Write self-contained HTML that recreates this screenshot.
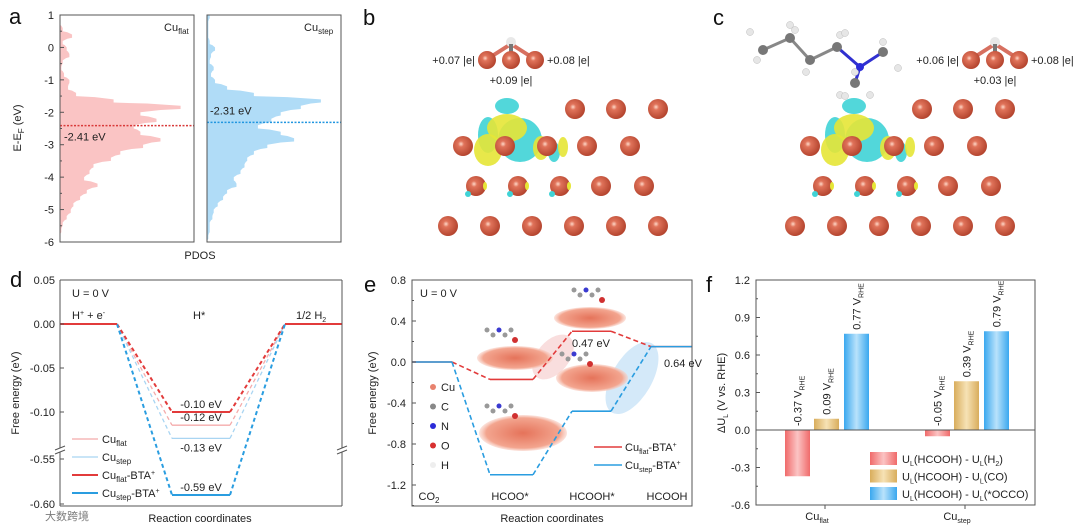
<!DOCTYPE html>
<html><head><meta charset="utf-8">
<style>
html,body{margin:0;padding:0;background:#fff;}
svg{display:block;font-family:"Liberation Sans","Noto Sans CJK SC",sans-serif;}
.t{font-size:11px;fill:#222;}
.L{font-size:22px;fill:#111;}
</style></head>
<body>
<svg id="fig" width="1080" height="530" viewBox="0 0 1080 530" xmlns="http://www.w3.org/2000/svg">
<defs>
<radialGradient id="cu" cx="0.4" cy="0.4" r="0.6"><stop offset="0" stop-color="#ffd8c8"/><stop offset="0.25" stop-color="#e0735a"/><stop offset="1" stop-color="#b5452f"/></radialGradient>
<linearGradient id="gr" x1="0" x2="1"><stop offset="0" stop-color="#f06a6a"/><stop offset="0.5" stop-color="#fbc4c4"/><stop offset="1" stop-color="#f06a6a"/></linearGradient>
<linearGradient id="gy" x1="0" x2="1"><stop offset="0" stop-color="#d9ad5c"/><stop offset="0.5" stop-color="#f6e2b5"/><stop offset="1" stop-color="#d9ad5c"/></linearGradient>
<linearGradient id="gb" x1="0" x2="1"><stop offset="0" stop-color="#3aa8ef"/><stop offset="0.5" stop-color="#b9e2fb"/><stop offset="1" stop-color="#3aa8ef"/></linearGradient>
<radialGradient id="slab" cx="0.5" cy="0.5" r="0.6"><stop offset="0" stop-color="#e5735a"/><stop offset="0.7" stop-color="#f3a58f"/><stop offset="1" stop-color="#fff" stop-opacity="0"/></radialGradient>
</defs>
<g id="pa"></g>
<g id="pb"></g>
<g id="pc"></g>
<g id="pd"></g>
<g id="pe"></g>
<g id="pf"></g>
</svg>
<script>
// ---------- DATA ----------
const pdosEnergy = [1,0.8,0.6,0.4,0.2,0,-0.2,-0.4,-0.6,-0.8,-1.0,-1.2,-1.4,-1.6,-1.8,-2.0,-2.2,-2.4,-2.6,-2.8,-3.0,-3.2,-3.4,-3.6,-3.8,-4.0,-4.2,-4.4,-4.6,-4.8,-5.0,-5.2,-5.4,-5.6,-5.8,-6.0];
const pdosFlat = [0,0,0.02,0.09,0.02,0.05,0.07,0.02,0.01,0.03,0.07,0.06,0.12,0.4,0.9,0.6,0.72,0.55,0.6,0.75,0.62,0.45,0.38,0.25,0.22,0.18,0.28,0.2,0.15,0.1,0.08,0.05,0.02,0.01,0,0];
const pdosStep = [0.02,0.01,0.01,0.01,0.02,0.06,0.03,0.02,0.05,0.03,0.06,0.15,0.35,0.85,0.7,0.55,0.48,0.38,0.55,0.65,0.45,0.35,0.3,0.28,0.25,0.2,0.22,0.15,0.12,0.08,0.05,0.04,0.02,0.02,0.01,0];
const dbandCenters = [-2.41,-2.31];
const pdosTicks = [1,0,-1,-2,-3,-4,-5,-6];

const herSeries = ["Cu_flat","Cu_step","Cu_flat-BTA+","Cu_step-BTA+"];
const herHstar = [-0.115,-0.13,-0.10,-0.59];
const herLabels = ["-0.12 eV","-0.13 eV","-0.10 eV","-0.59 eV"];
const herTicksUpper = [0.05,0.00,-0.05,-0.10];
const herTicksLower = [-0.55,-0.60];

const co2Steps = ["CO2","HCOO*","HCOOH*","HCOOH"];
const co2Flat = [0,-0.17,0.30,0.15];
const co2Step = [0,-1.10,-0.48,0.15];
const co2Ticks = [0.8,0.4,0.0,-0.4,-0.8,-1.2];

const ulGroups = ["flat","step"];
const ulH2 = [-0.37,-0.05];
const ulCO = [0.09,0.39];
const ulOCCO = [0.77,0.79];
const ulTicks = [1.2,0.9,0.6,0.3,0.0,-0.3,-0.6];

// ---------- helpers ----------
const NS="http://www.w3.org/2000/svg";
function mk(parent,tag,attrs,text){const e=document.createElementNS(NS,tag);for(const k in attrs)e.setAttribute(k,attrs[k]);if(text!==undefined)e.textContent=text;parent.appendChild(e);return e;}
function txt(parent,x,y,s,extra){return mk(parent,"text",Object.assign({x:x,y:y,class:"t"},extra||{}),s);}

// ---------- Panel A ----------
const pa=document.getElementById("pa");
const aY=v=>15+(1-v)*(227/7);
function pdosPanel(x0,vals,fill,line,dc,labTxt,labX,labY,tickLeft,name){
  const w=134;
  let pts=[[x0,aY(1)]];
  for(let i=0;i<pdosEnergy.length;i++){
    const y1=aY(pdosEnergy[i]), y2=aY(pdosEnergy[Math.min(i+1,pdosEnergy.length-1)]);
    const xv=x0+vals[i]*w;
    pts.push([xv,y1]);pts.push([xv,(y1+y2)/2]);
    const nx=x0+vals[Math.min(i+1,vals.length-1)]*w;
    pts.push([(xv+nx)/2,(y1+y2)/2+1]);
  }
  pts.push([x0,aY(-6)]);
  const poly=mk(pa,"polygon",{points:pts.map(p=>p.join(",")).join(" "),fill:fill});
  
  
  const dl=mk(pa,"line",{x1:x0,x2:x0+w,y1:aY(dc),y2:aY(dc),stroke:line,"stroke-width":1.5,"stroke-dasharray":"2,1.5"});
  
  
  const fr=mk(pa,"rect",{x:x0,y:15,width:w,height:227,fill:"none",stroke:"#555","stroke-width":1});
  
  
  const lb=txt(pa,labX,labY,(dc.toFixed(2))+" eV",{fill:line,"font-size":"12"});
  
  
  if(tickLeft){
    pdosTicks.forEach(t=>{
      const y=aY(t);
      mk(pa,"line",{x1:x0,x2:x0+4,y1:y,y2:y,stroke:"#555"});
      const tl=txt(pa,x0-6,y+4,String(t),{"text-anchor":"end"});
      
      
      if(t>-6){mk(pa,"line",{x1:x0,x2:x0+2,y1:y+16.2,y2:y+16.2,stroke:"#555"});}
    });
  }
}
pdosPanel(60,pdosFlat,"#fac4c4","#d93a3a",dbandCenters[0],"",64,aY(dbandCenters[0])+15,true,"pdos-flat");
pdosPanel(207,pdosStep,"#b0dcf7","#2196e0",dbandCenters[1],"",210,aY(dbandCenters[1])-8,false,"pdos-step");
{
 let e=txt(pa,164,31,"Cu",{fill:"#e04848","font-size":"12"});mk(e,"tspan",{"font-size":"8",dy:"3"},"flat");
 
 e=txt(pa,304,31,"Cu",{fill:"#2196e0","font-size":"12"});mk(e,"tspan",{"font-size":"8",dy:"3"},"step");
 
 e=txt(pa,200,259,"PDOS",{"text-anchor":"middle"});
 
 e=mk(pa,"text",{x:0,y:0,class:"t",transform:"translate(21,128) rotate(-90)","text-anchor":"middle"},"E-E");
 mk(e,"tspan",{"font-size":"8",dy:"3"},"F");mk(e,"tspan",{dy:"-3"}," (eV)");
 
 e=txt(pa,9,24,"a",{class:"L"});
 
}

// ---------- Panels B & C (structures) ----------
function structure(g,dx,labels){
  const blobs=[["#3fd3d6",507+dx,106,12,8],["#3fd3d6",488+dx,135,10,18],["#3fd3d6",520+dx,140,22,22],["#e6e636",507+dx,128,20,14],["#e6e636",488+dx,150,14,16],["#e6e636",541+dx,148,8,12],["#3fd3d6",554+dx,152,6,10],["#e6e636",563+dx,147,5,10]];
  blobs.forEach(b=>mk(g,"ellipse",{cx:b[1],cy:b[2],rx:b[3],ry:b[4],fill:b[0],opacity:0.9}));
  const rows=[[109,[575,616,658]],[146,[463,505,547,587,630]],[186,[476,518,560,601,644]],[226,[448,490,532,574,616,658]]];
  rows.forEach(r=>r[1].forEach(x=>{
    const c=mk(g,"circle",{cx:x+dx,cy:r[0],r:10,fill:"url(#cu)"});
    
  }));
  [[476,186],[518,186],[560,186]].forEach(p=>{mk(g,"ellipse",{cx:p[0]+dx-8,cy:p[1]+8,rx:3,ry:3,fill:"#3fd3d6"});mk(g,"ellipse",{cx:p[0]+dx+9,cy:p[1],rx:2,ry:4,fill:"#e6e636"});});
  const cx=labels[3];
  mk(g,"line",{x1:cx-22,y1:58,x2:cx,y2:44,stroke:"#d77060","stroke-width":4});
  mk(g,"line",{x1:cx+22,y1:58,x2:cx,y2:44,stroke:"#d77060","stroke-width":4});
  mk(g,"circle",{cx:cx,cy:42,r:5,fill:"#e8e8e8"});
  mk(g,"rect",{x:cx-2,y:44,width:4,height:8,fill:"#777"});
  [-24,0,24].forEach(o=>mk(g,"circle",{cx:cx+o,cy:60,r:9,fill:"url(#cu)"}));
  let e=txt(g,cx-36,64,labels[0],{"text-anchor":"end"});
  e=txt(g,cx+36,64,labels[1]);
  e=txt(g,cx,84,labels[2],{"text-anchor":"middle"});
}
const pb=document.getElementById("pb");
structure(pb,0,["+0.07 |e|","+0.08 |e|","+0.09 |e|",511]);
{let e=txt(pb,363,25,"b",{class:"L"});}
const pc=document.getElementById("pc");
structure(pc,347,["+0.06 |e|","+0.08 |e|","+0.03 |e|",995]);
{
 const bonds=[[763,50,790,38],[790,38,810,60],[810,60,837,47],[837,47,860,67],[860,67,883,52],[860,67,855,83]];
 bonds.forEach(b=>mk(pc,"line",{x1:b[0],y1:b[1],x2:b[2],y2:b[3],stroke:b[2]==860||b[0]==860?"#3030d0":"#888","stroke-width":3}));
 const hs=[[750,32],[757,60],[790,25],[795,30],[806,72],[840,35],[845,33],[883,42],[898,68],[855,72],[840,95],[870,95],[845,96]];
 hs.forEach(h=>mk(pc,"circle",{cx:h[0],cy:h[1],r:3.5,fill:"#e6e6e6",stroke:"#bbb","stroke-width":0.5}));
 [[763,50],[790,38],[810,60],[837,47],[883,52],[855,83]].forEach(p=>mk(pc,"circle",{cx:p[0],cy:p[1],r:5,fill:"#777"}));
 mk(pc,"circle",{cx:860,cy:67,r:4,fill:"#2b2bd8"});
 let e=txt(pc,713,25,"c",{class:"L"});
}

// ---------- Panel D ----------
const pd=document.getElementById("pd");
const dY=v=> v>=-0.2 ? 324 - v*880 : 459 + (-0.55 - v)*900;
const dX0=60,dX1=342;
const hx=[60,117,172,230,285,342];
const herColors=["#f4abab","#a9d5f2","#e23b3b","#2a9de0"];
const herWidths=[1.3,1.3,2,2];
[0,1,2,3].forEach(i=>{
  const y=dY(herHstar[i]), y0=dY(0);
  const p1=mk(pd,"polyline",{points:`${hx[1]},${y0} ${hx[2]},${y} `,fill:"none",stroke:herColors[i],"stroke-width":herWidths[i],"stroke-dasharray":"4,3"});
  
  const p2=mk(pd,"polyline",{points:`${hx[3]},${y} ${hx[4]},${y0}`,fill:"none",stroke:herColors[i],"stroke-width":herWidths[i],"stroke-dasharray":"4,3"});
  
  const lv=mk(pd,"line",{x1:hx[2],x2:hx[3],y1:y,y2:y,stroke:herColors[i],"stroke-width":herWidths[i]});
  
  const above=(i!==1);
  const lb=txt(pd,(hx[2]+hx[3])/2,above?y-4:y+13,herLabels[i],{"text-anchor":"middle",fill:herColors[i],"font-size":"12"});
  
});
{
 let l=mk(pd,"line",{x1:hx[0],x2:hx[1],y1:dY(0),y2:dY(0),stroke:"#e23b3b","stroke-width":2});
 l=mk(pd,"line",{x1:hx[4],x2:hx[5],y1:dY(0),y2:dY(0),stroke:"#e23b3b","stroke-width":2});
 mk(pd,"line",{x1:dX0,x2:dX1,y1:280,y2:280,stroke:"#555"});
 mk(pd,"line",{x1:dX0,x2:dX1,y1:506,y2:506,stroke:"#555"});
 mk(pd,"line",{x1:dX0,x2:dX0,y1:280,y2:448,stroke:"#555"});
 mk(pd,"line",{x1:dX0,x2:dX0,y1:452,y2:506,stroke:"#555"});
 mk(pd,"line",{x1:dX1,x2:dX1,y1:280,y2:448,stroke:"#555"});
 mk(pd,"line",{x1:dX1,x2:dX1,y1:452,y2:506,stroke:"#555"});
 [dX0,dX1].forEach(x=>{mk(pd,"line",{x1:x-5,y1:450,x2:x+5,y2:446,stroke:"#555"});mk(pd,"line",{x1:x-5,y1:454,x2:x+5,y2:450,stroke:"#555"});});
 herTicksUpper.concat(herTicksLower).forEach(t=>{
   const y=dY(t);mk(pd,"line",{x1:dX0,x2:dX0+4,y1:y,y2:y,stroke:"#555"});
   const e=txt(pd,dX0-5,y+4,t.toFixed(2),{"text-anchor":"end"});
   
 });
 let e=txt(pd,72,297,"U = 0 V");
 e=txt(pd,72,319,"H");mk(e,"tspan",{"font-size":"7",dy:"-4"},"+");mk(e,"tspan",{dy:"4"}," + e");mk(e,"tspan",{"font-size":"7",dy:"-4"},"-");
 
 e=txt(pd,193,319,"H*");
 e=txt(pd,296,319,"1/2 H");mk(e,"tspan",{"font-size":"7",dy:"3"},"2");
 e=mk(pd,"text",{x:0,y:0,class:"t",transform:"translate(19,393) rotate(-90)","text-anchor":"middle"},"Free energy (eV)");
 
 e=txt(pd,200,522,"Reaction coordinates",{"text-anchor":"middle","font-size":"12"});
 
 const legSubs=["flat","step","flat","step"];
 [0,1,2,3].forEach(i=>{
   const y=439+i*18;
   const ln=mk(pd,"line",{x1:72,x2:98,y1:y,y2:y,stroke:herColors[i],"stroke-width":herWidths[i]});
   
   const t=txt(pd,102,y+4,"Cu",{"font-size":"12"});mk(t,"tspan",{"font-size":"8",dy:"3"},legSubs[i]);
   if(i>=2){mk(t,"tspan",{dy:"-3"},"-BTA");mk(t,"tspan",{"font-size":"7",dy:"-4"},"+");}
   
 });
 e=txt(pd,10,287,"d",{class:"L"});
 e=txt(pd,45,520,"大数跨境",{"font-size":"20",fill:"#ccc",opacity:0.6});
}

// ---------- Panel E ----------
const pe=document.getElementById("pe");
const eY=v=>362 - v*102.5;
const ex=[[412,452],[490,533],[572,611],[651,692]];
{
 let h=mk(pe,"ellipse",{cx:0,cy:0,rx:26,ry:16,fill:"#f8d6d6",opacity:0.8,transform:"translate(553,357) rotate(-50)"});
 h=mk(pe,"ellipse",{cx:0,cy:0,rx:40,ry:20,fill:"#cfe7f8",opacity:0.9,transform:"translate(632,378) rotate(-60)"});
 [[515,358,38,12],[590,318,36,11],[592,378,36,14],[523,433,44,18]].forEach((s,i)=>{const sl=mk(pe,"ellipse",{cx:s[0],cy:s[1],rx:s[2],ry:s[3],fill:"url(#slab)"});});
 [[505,338],[592,298],[580,362],[505,414]].forEach(m=>{
   for(let k=0;k<5;k++)mk(pe,"circle",{cx:m[0]-18+k*6,cy:m[1]-8+(k%2)*5,r:2.5,fill:k==2?"#3a3ad0":"#999"});
   mk(pe,"circle",{cx:m[0]+10,cy:m[1]+2,r:3,fill:"#d03030"});
 });
}
function eSeries(vals,color,name){
  vals.forEach((v,i)=>{
    const l=mk(pe,"line",{x1:ex[i][0],x2:ex[i][1],y1:eY(v),y2:eY(v),stroke:color,"stroke-width":1.6});
    
    if(i<vals.length-1){
      const d=mk(pe,"line",{x1:ex[i][1],x2:ex[i+1][0],y1:eY(v),y2:eY(vals[i+1]),stroke:color,"stroke-width":1.6,"stroke-dasharray":"5,3"});
      
    }
  });
}
eSeries(co2Flat,"#e23b3b","co2-flat");
eSeries(co2Step,"#2a9de0","co2-step");
{
 mk(pe,"rect",{x:412,y:280,width:280,height:226,fill:"none",stroke:"#555"});
 co2Ticks.forEach(t=>{const y=eY(t);mk(pe,"line",{x1:412,x2:416,y1:y,y2:y,stroke:"#555"});mk(pe,"line",{x1:412,x2:414,y1:y+20.5,y2:y+20.5,stroke:"#555"});
   const e=txt(pe,406,y+4,t.toFixed(1),{"text-anchor":"end"});});
 let e=txt(pe,420,297,"U = 0 V");
 const lx=[429,510,592,667];
 co2Steps.forEach((s,i)=>{
   const t=txt(pe,lx[i],500,i==0?"CO":s,{"text-anchor":"middle"});
   if(i==0)mk(t,"tspan",{"font-size":"8",dy:"3"},"2");
   
 });
 e=txt(pe,572,347,"0.47 eV",{fill:"#e23b3b","font-size":"12"});
 e=txt(pe,664,367,"0.64 eV",{fill:"#2a9de0","font-size":"12"});
 const el=["Cu","C","N","O","H"],ec=["#e8826e","#888","#2b2bd8","#d83030","#eee"];
 el.forEach((s,i)=>{const y=387+i*19.5;mk(pe,"circle",{cx:433,cy:y,r:3,fill:ec[i]});
   const t=txt(pe,441,y+4,s);});
 [["#e23b3b","flat",447],["#2a9de0","step",465]].forEach((L,i)=>{
   mk(pe,"line",{x1:594,x2:622,y1:L[2],y2:L[2],stroke:L[0],"stroke-width":1.6});
   const t=txt(pe,625,L[2]+4,"Cu");mk(t,"tspan",{"font-size":"7",dy:"3"},L[1]);mk(t,"tspan",{dy:"-3"},"-BTA");mk(t,"tspan",{"font-size":"7",dy:"-4"},"+");
   
 });
 e=mk(pe,"text",{x:0,y:0,class:"t",transform:"translate(376,393) rotate(-90)","text-anchor":"middle"},"Free energy (eV)");
 
 e=txt(pe,552,522,"Reaction coordinates",{"text-anchor":"middle","font-size":"12"});
 
 e=txt(pe,364,292,"e",{class:"L"});
}

// ---------- Panel F ----------
const pf=document.getElementById("pf");
const fY=v=>430 - v*125;
const gx=[785,925], bw=25, off=[0,29,59];
const sets=[[ulH2,"url(#gr)","h2"],[ulCO,"url(#gy)","co"],[ulOCCO,"url(#gb)","occo"]];
sets.forEach((s,si)=>{
  s[0].forEach((v,gi)=>{
    const x=gx[gi]+off[si];
    const y0=fY(0),y1=fY(v);
    const r=mk(pf,"rect",{x:x,y:Math.min(y0,y1),width:bw,height:Math.abs(y1-y0),fill:s[1]});
    
    const ly=v>=0?y1-4:y0-4;
    const t=mk(pf,"text",{x:0,y:0,class:"t",transform:`translate(${x+bw/2+4},${ly}) rotate(-90)`,"font-size":"11"},v.toFixed(2)+" V");
    mk(t,"tspan",{"font-size":"7",dy:"3"},"RHE");
    
  });
});
{
 mk(pf,"rect",{x:756,y:280,width:279,height:225,fill:"none",stroke:"#555"});
 mk(pf,"line",{x1:756,x2:1035,y1:fY(0),y2:fY(0),stroke:"#555"});
 ulTicks.forEach(t=>{const y=fY(t);mk(pf,"line",{x1:756,x2:760,y1:y,y2:y,stroke:"#555"});
   if(t>-0.6)mk(pf,"line",{x1:756,x2:758,y1:y+18.75,y2:y+18.75,stroke:"#555"});
   const e=txt(pf,750,y+4,t.toFixed(1),{"text-anchor":"end"});});
 [825,965].forEach((x,i)=>{mk(pf,"line",{x1:x,x2:x,y1:505,y2:509,stroke:"#555"});
   const t=txt(pf,x-8,520,"Cu",{"text-anchor":"middle"});mk(t,"tspan",{"font-size":"7",dy:"3"},ulGroups[i]);
   });
 const leg=[["url(#gr)","H",""],["url(#gy)","CO",""],["url(#gb)","*OCCO",""]];
 leg.forEach((L,i)=>{const y=459+i*17.5;
   const sw=mk(pf,"rect",{x:870,y:y-7,width:27,height:13,fill:L[0]});
   const t=txt(pf,902,y+4,"U",{"font-size":"11"});mk(t,"tspan",{"font-size":"7",dy:"3"},"L");mk(t,"tspan",{dy:"-3"},"(HCOOH) - U");mk(t,"tspan",{"font-size":"7",dy:"3"},"L");
   if(i==0){mk(t,"tspan",{dy:"-3"},"(H");mk(t,"tspan",{"font-size":"7",dy:"3"},"2");mk(t,"tspan",{dy:"-3"},")");}
   else mk(t,"tspan",{dy:"-3"},"("+L[1]+")");
   });
 let e=mk(pf,"text",{x:0,y:0,class:"t",transform:"translate(725,393) rotate(-90)","text-anchor":"middle"},"ΔU");
 mk(e,"tspan",{"font-size":"7",dy:"3"},"L");mk(e,"tspan",{dy:"-3"}," (V vs. RHE)");
 
 e=txt(pf,706,292,"f",{class:"L"});
}
</script>
</body></html>
